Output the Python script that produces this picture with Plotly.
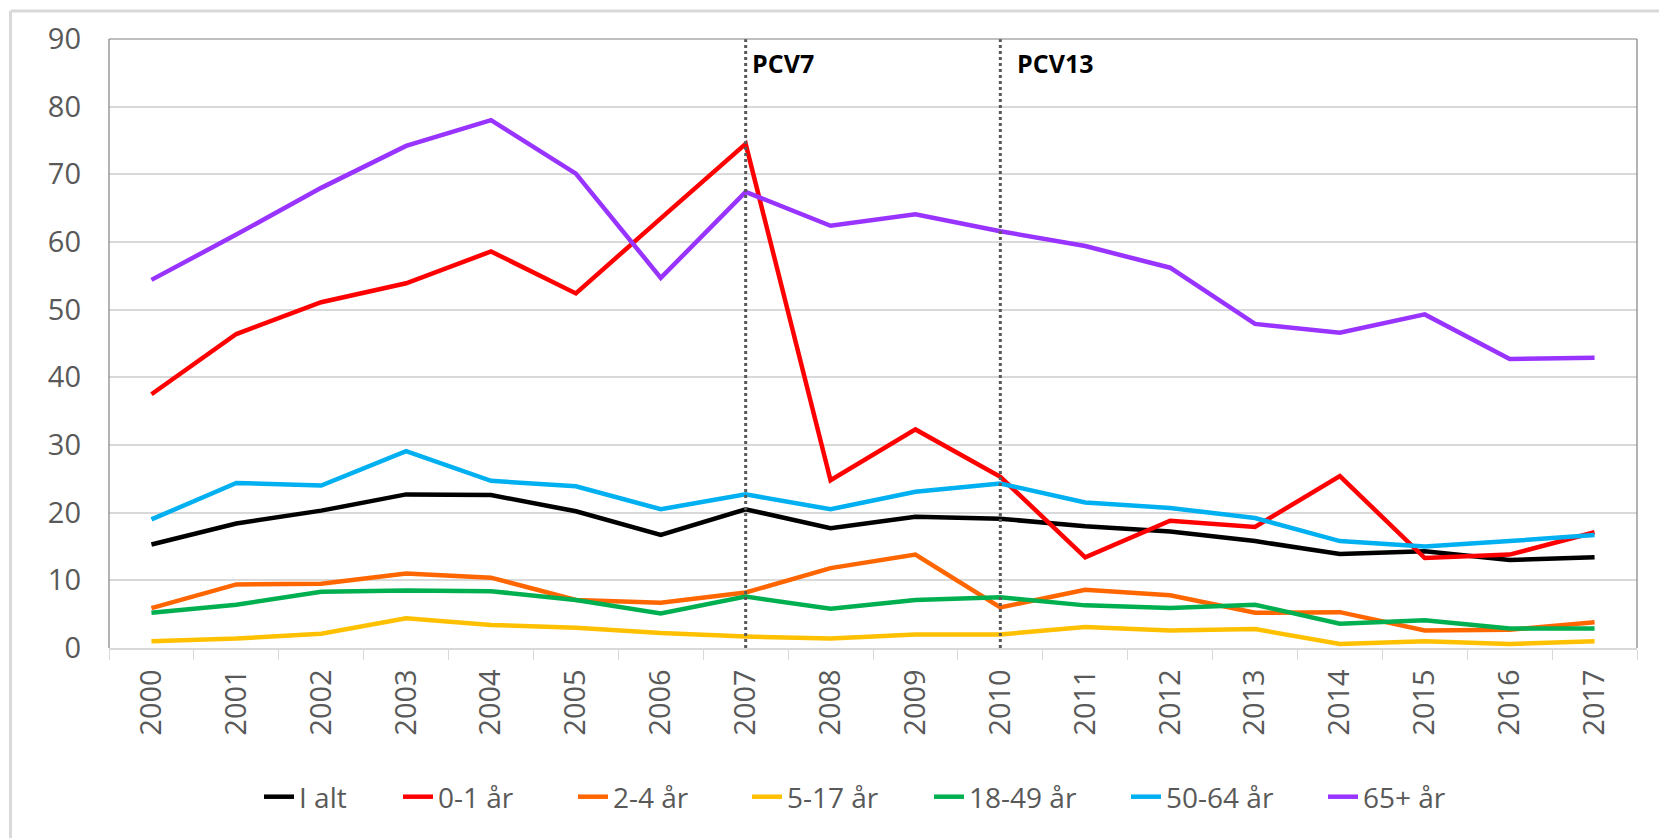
import plotly.graph_objects as go

years = [str(y) for y in range(2000, 2018)]

i_alt = [15.3, 18.4, 20.3, 22.7, 22.6, 20.2, 16.7, 20.5, 17.7, 19.4, 19.1, 18.0, 17.2, 15.8, 13.9, 14.3, 13.0, 13.4]
age_0_1 = [37.5, 46.4, 51.1, 53.9, 58.6, 52.4, 63.5, 74.5, 24.8, 32.3, 25.3, 13.4, 18.8, 17.9, 25.4, 13.3, 13.8, 17.1]
age_2_4 = [5.9, 9.4, 9.5, 11.0, 10.4, 7.1, 6.7, 8.2, 11.8, 13.8, 6.0, 8.6, 7.8, 5.2, 5.3, 2.6, 2.7, 3.8]
age_5_17 = [1.0, 1.4, 2.1, 4.4, 3.4, 3.0, 2.2, 1.7, 1.4, 2.0, 2.0, 3.1, 2.6, 2.8, 0.6, 1.0, 0.6, 1.0]
age_18_49 = [5.2, 6.4, 8.3, 8.5, 8.4, 7.1, 5.1, 7.6, 5.8, 7.1, 7.5, 6.3, 5.9, 6.4, 3.6, 4.1, 2.9, 2.9]
age_50_64 = [19.0, 24.4, 24.0, 29.1, 24.7, 23.9, 20.5, 22.7, 20.5, 23.1, 24.3, 21.5, 20.7, 19.2, 15.8, 15.0, 15.8, 16.7]
age_65 = [54.4, 61.1, 68.0, 74.2, 78.0, 70.1, 54.7, 67.4, 62.4, 64.1, 61.6, 59.4, 56.2, 47.9, 46.6, 49.3, 42.7, 42.9]

series_names = ["I alt", "0-1 år", "2-4 år", "5-17 år", "18-49 år", "50-64 år", "65+ år"]
series_values = [i_alt, age_0_1, age_2_4, age_5_17, age_18_49, age_50_64, age_65]
series_colors = ["#000000", "#FF0000", "#FF6600", "#FFC000", "#00B050", "#00B0F0", "#9933FF"]

vaccine_years = ["2007", "2010"]
vaccine_labels = ["PCV7", "PCV13"]
vaccine_label_shift = [4, 15]

y_ticks = list(range(0, 91, 10))

# layout geometry (pixels)
W, H = 1659, 838
ML, MR, MT, MB = 109, 22, 39, 190
PW = W - ML - MR
PH = H - MT - MB

# legend text start positions (px) as in the reference
legend_text_x = [301, 440, 615, 789, 971, 1168, 1365]
legend_y_px = 797

fig = go.Figure()
legend_layouts = {}
for i, (name, vals, col) in enumerate(zip(series_names, series_values, series_colors)):
    lg = "legend" if i == 0 else "legend%d" % (i + 1)
    fig.add_trace(go.Scatter(x=years, y=vals, mode="lines", name=name, legend=lg,
                             line=dict(color=col, width=4.5)))
    legend_layouts[lg] = dict(
        x=(legend_text_x[i] - 42 - ML) / PW, xanchor="left",
        y=(MT + PH - legend_y_px) / PH, yanchor="middle",
        orientation="h", bgcolor="rgba(0,0,0,0)", borderwidth=0,
        font=dict(size=28, color="#595959"), itemwidth=30,
    )

for vy, lab, sh in zip(vaccine_years, vaccine_labels, vaccine_label_shift):
    xi = years.index(vy)
    fig.add_shape(type="line", xref="x", yref="paper", x0=xi, x1=xi, y0=0, y1=1,
                  line=dict(color="#595959", width=3, dash="dot"), layer="above")
    fig.add_annotation(x=xi, xref="x", y=0.961, yref="paper", text="<b>" + lab + "</b>",
                       showarrow=False, xanchor="left", yanchor="middle", xshift=sh,
                       font=dict(family="Open Sans", size=25, color="#000000"))

# plot area border (left, top, right)
for x0, y0, x1, y1 in [(0, 0, 0, 1), (0, 1, 1, 1), (1, 0, 1, 1)]:
    fig.add_shape(type="line", xref="paper", yref="paper", x0=x0, y0=y0, x1=x1, y1=y1,
                  line=dict(color="#808080", width=1.2), layer="above")

# outer chart border (left and top visible)
bx = (10.5 - ML) / PW
by = (MT + PH - 11) / PH
fig.add_shape(type="line", xref="paper", yref="paper", x0=bx, x1=bx, y0=-0.4, y1=by,
              line=dict(color="#D9D9D9", width=3))
fig.add_shape(type="line", xref="paper", yref="paper", x0=bx, x1=1.05, y0=by, y1=by,
              line=dict(color="#D9D9D9", width=3))

fig.update_layout(
    width=W, height=H,
    margin=dict(l=ML, r=MR, t=MT, b=MB),
    paper_bgcolor="white", plot_bgcolor="white",
    font=dict(family="Open Sans", color="#595959"),
    showlegend=True,
    xaxis=dict(type="category", range=[-0.5, len(years) - 0.5], tickson="boundaries",
               ticks="outside", ticklen=10,
               tickcolor="#D9D9D9", showgrid=False, showline=True, linecolor="#D9D9D9",
               linewidth=1.5, tickangle=-90, tickfont=dict(size=29, color="#595959"),
               ticklabelstandoff=8),
    yaxis=dict(range=[0, 90], tickvals=y_ticks, showgrid=True, gridcolor="#D9D9D9",
               gridwidth=1.5, zeroline=False, showline=False, ticks="",
               tickfont=dict(size=29, color="#595959"), ticklabelstandoff=27),
    **legend_layouts,
)

fig.write_html("out.html", config={"displayModeBar": False},
               post_script="document.body.style.margin='0';document.body.style.overflow='hidden';")
